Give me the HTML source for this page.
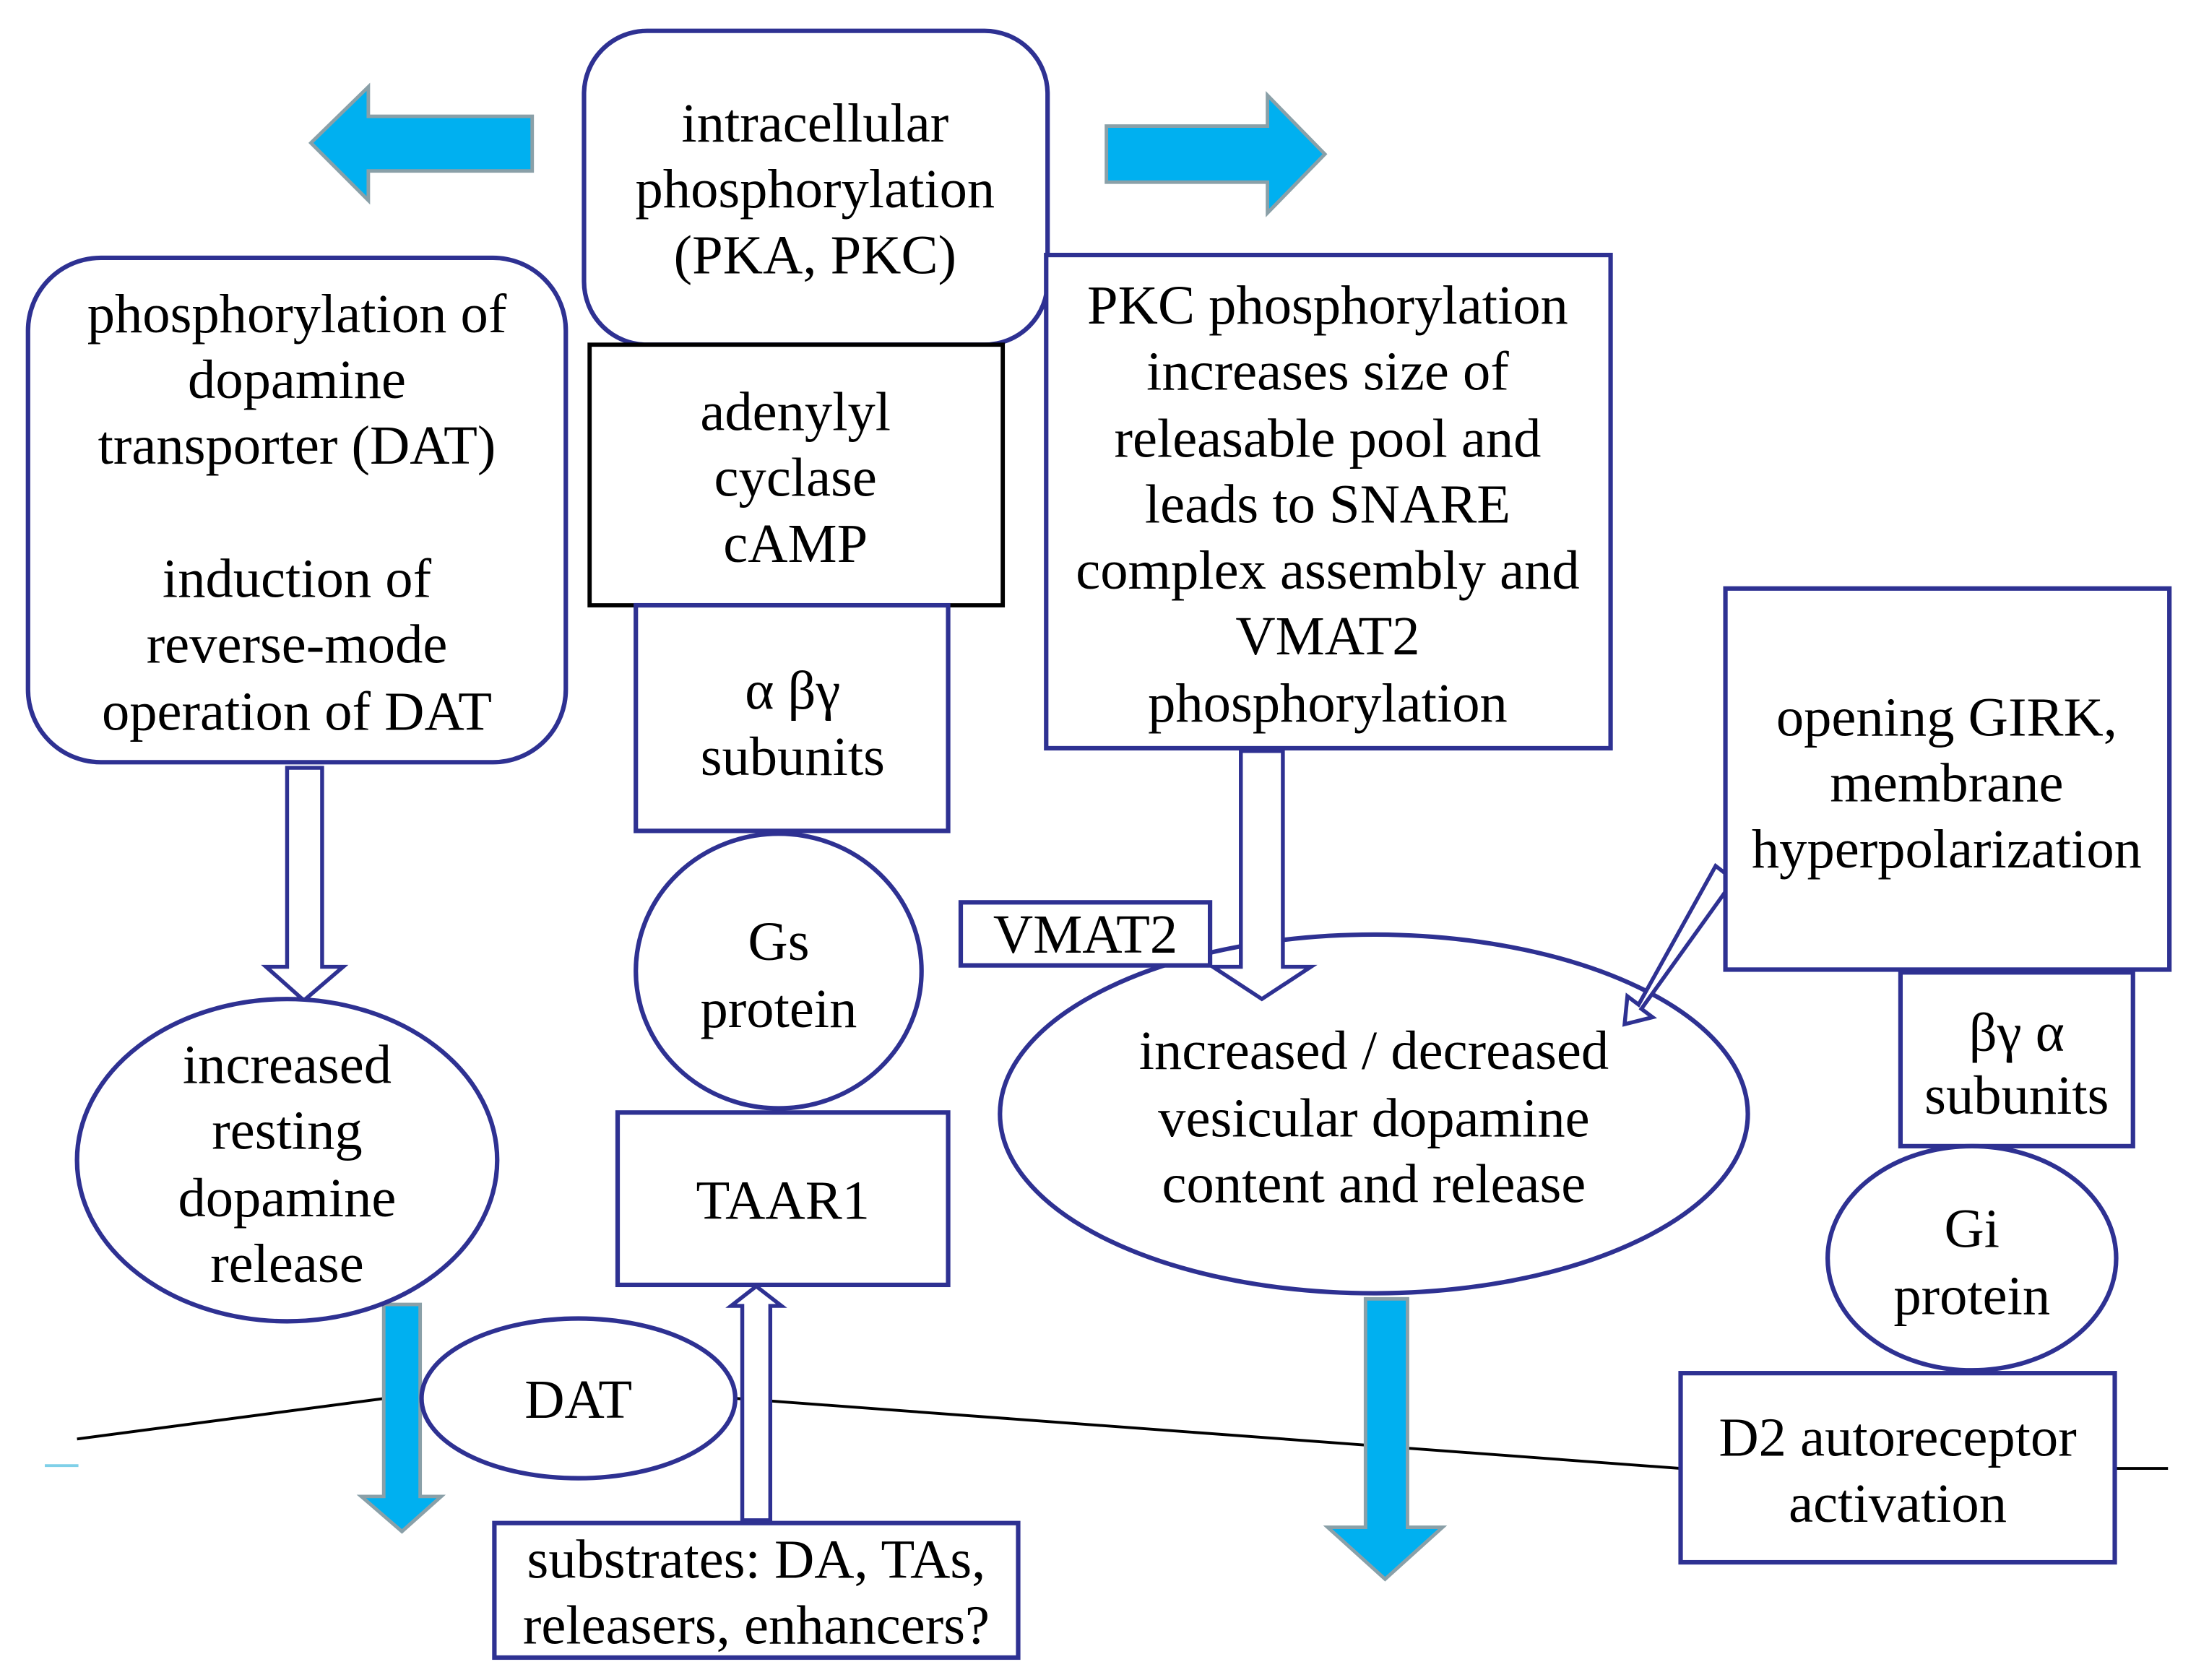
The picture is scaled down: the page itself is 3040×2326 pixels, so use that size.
<!DOCTYPE html>
<html><head><meta charset="utf-8"><style>
html,body{margin:0;padding:0;background:#fff;}
svg{display:block;}
text{font-family:"Liberation Serif",serif;font-size:39.5px;fill:#000;text-anchor:middle;}
.b{fill:#fff;stroke:#2e3192;stroke-width:3.2;}
.c{fill:#00b0f0;stroke:#8aa0a8;stroke-width:2.5;}
.h{fill:#fff;stroke:#2e3192;stroke-width:2.8;}
</style></head><body>
<svg width="3040" height="2326" viewBox="0 0 1568 1199" preserveAspectRatio="none" xmlns="http://www.w3.org/2000/svg">
<line x1="55" y1="1027" x2="275" y2="998" stroke="#000" stroke-width="2"/>
<line x1="525" y1="998" x2="1200" y2="1048" stroke="#000" stroke-width="2"/>
<line x1="1510" y1="1048" x2="1548" y2="1048" stroke="#000" stroke-width="2"/>
<line x1="32" y1="1046" x2="56" y2="1046" stroke="#7fd0e8" stroke-width="2"/>

<polygon class="c" points="222,102 263,62 263,83 380,83 380,122 263,122 263,143"/>
<polygon class="c" points="946,110 905,68 905,90 790,90 790,130 905,130 905,152"/>
<polygon class="c" points="274,931 300,931 300,1068 315,1068 287,1093 258,1068 274,1068"/>
<polygon class="c" points="975,927 1005,927 1005,1090 1030,1090 989,1127 948,1090 975,1090"/>

<rect class="b" x="417" y="22" width="331" height="224" rx="45"/>
<text x="582" y="101">intracellular</text>
<text x="582" y="148">phosphorylation</text>
<text x="582" y="195">(PKA, PKC)</text>

<rect class="b" x="20" y="184" width="384" height="360" rx="52"/>
<text x="212" y="237">phosphorylation of</text>
<text x="212" y="284">dopamine</text>
<text x="212" y="331">transporter (DAT)</text>
<text x="212" y="426">induction of</text>
<text x="212" y="473">reverse-mode</text>
<text x="212" y="521">operation of DAT</text>

<rect x="421" y="246" width="295" height="186" fill="#fff" stroke="#000" stroke-width="3"/>
<text x="568" y="307">adenylyl</text>
<text x="568" y="354">cyclase</text>
<text x="568" y="401">cAMP</text>

<rect class="b" x="454" y="432" width="223" height="161"/>
<text x="566" y="506">α  βγ</text>
<text x="566" y="553">subunits</text>

<ellipse class="b" cx="556" cy="693" rx="102" ry="98"/>
<text x="556" y="685">Gs</text>
<text x="556" y="733">protein</text>

<rect class="b" x="441" y="794" width="236" height="123"/>
<text x="559" y="870">TAAR1</text>

<polygon class="h" points="530,1085 530,932 522,932 540,918 558,932 550,932 550,1085"/>
<rect class="b" x="353" y="1087" width="374" height="96"/>
<text x="540" y="1126">substrates: DA, TAs,</text>
<text x="540" y="1173">releasers, enhancers?</text>

<ellipse class="b" cx="413" cy="998" rx="112" ry="57"/>
<text x="413" y="1012">DAT</text>

<polygon class="h" points="205,548 230,548 230,690 245,690 217,714 190,690 205,690"/>
<ellipse class="b" cx="205" cy="828" rx="150" ry="115"/>
<text x="205" y="773">increased</text>
<text x="205" y="820">resting</text>
<text x="205" y="868">dopamine</text>
<text x="205" y="915">release</text>

<rect class="b" x="747" y="182" width="403" height="352"/>
<text x="948" y="231">PKC phosphorylation</text>
<text x="948" y="278">increases size of</text>
<text x="948" y="326">releasable pool and</text>
<text x="948" y="373">leads to SNARE</text>
<text x="948" y="420">complex assembly and</text>
<text x="948" y="467">VMAT2</text>
<text x="948" y="515">phosphorylation</text>

<ellipse class="b" cx="981" cy="795" rx="267" ry="128"/>
<polygon class="h" points="886,536 916,536 916,690 936,690 901,713 866,690 886,690"/>
<polygon class="h" points="1225,618 1238,628 1172,720 1180,726 1160,731 1162,711 1170,717"/>
<rect class="b" x="686" y="644" width="178" height="45"/>
<text x="775" y="680">VMAT2</text>
<text x="981" y="763">increased / decreased</text>
<text x="981" y="811">vesicular dopamine</text>
<text x="981" y="858">content and release</text>

<rect class="b" x="1232" y="420" width="317" height="272"/>
<text x="1390" y="525">opening GIRK,</text>
<text x="1390" y="572">membrane</text>
<text x="1390" y="619">hyperpolarization</text>

<rect class="b" x="1357" y="694" width="166" height="124"/>
<text x="1440" y="750">βγ α</text>
<text x="1440" y="795">subunits</text>

<ellipse class="b" cx="1408" cy="898" rx="103" ry="80"/>
<text x="1408" y="890">Gi</text>
<text x="1408" y="938">protein</text>

<rect class="b" x="1200" y="980" width="310" height="135"/>
<text x="1355" y="1039">D2 autoreceptor</text>
<text x="1355" y="1086">activation</text>
</svg>
</body></html>
